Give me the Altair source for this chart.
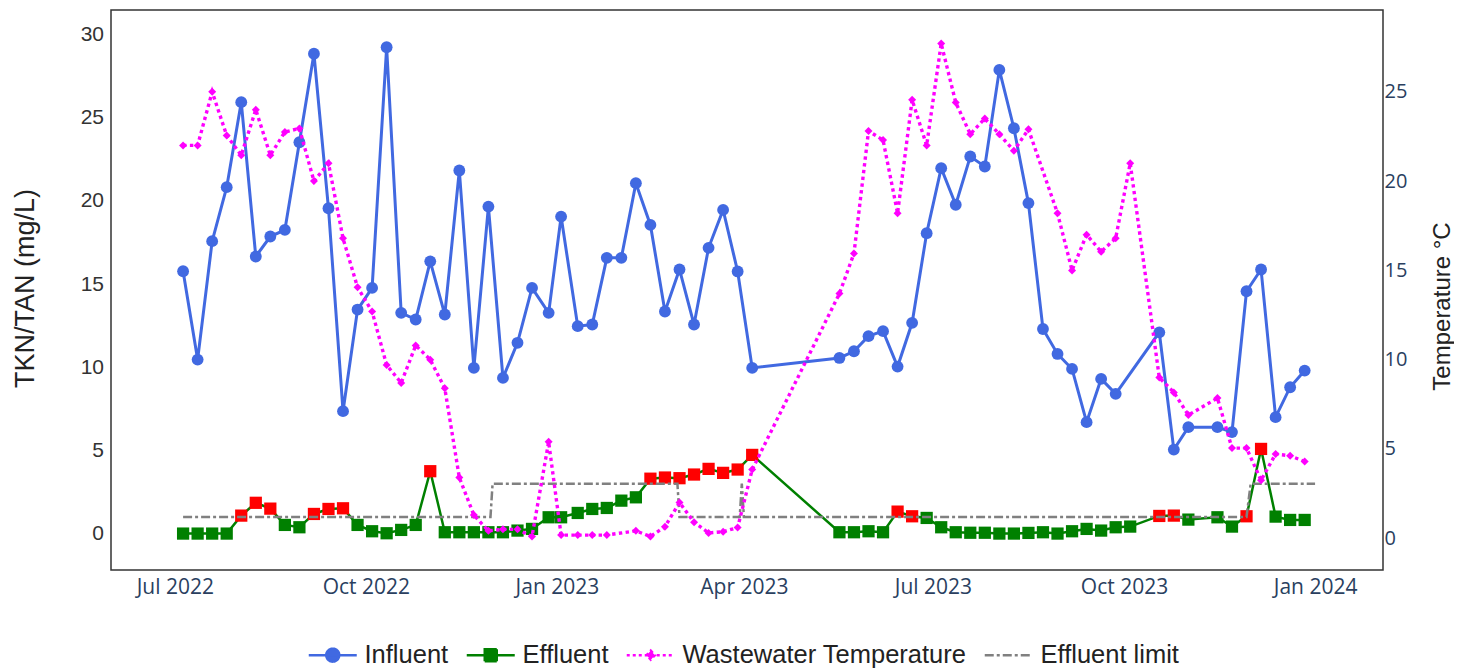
import altair as alt
import numpy as np
import pandas as pd

# ---------------- data ----------------
sample_dates = [
    "2022-07-05", "2022-07-12", "2022-07-19", "2022-07-26", "2022-08-02", "2022-08-09",
    "2022-08-16", "2022-08-23", "2022-08-30", "2022-09-06", "2022-09-13", "2022-09-20",
    "2022-09-27", "2022-10-04", "2022-10-11", "2022-10-18", "2022-10-25", "2022-11-01",
    "2022-11-08", "2022-11-15", "2022-11-22", "2022-11-29", "2022-12-06", "2022-12-13",
    "2022-12-20", "2022-12-28", "2023-01-03", "2023-01-11", "2023-01-18", "2023-01-25",
    "2023-02-01", "2023-02-08", "2023-02-15", "2023-02-22", "2023-03-01", "2023-03-08",
    "2023-03-15", "2023-03-22", "2023-03-29", "2023-04-05", "2023-04-12", "2023-04-19",
    "2023-04-26", "2023-05-03", "2023-05-10", "2023-05-17", "2023-05-24", "2023-05-31",
    "2023-06-07", "2023-06-14", "2023-06-21", "2023-06-28", "2023-07-05", "2023-07-12",
    "2023-07-19", "2023-07-26", "2023-08-02", "2023-08-09", "2023-08-16", "2023-08-23",
    "2023-08-30", "2023-09-06", "2023-09-13", "2023-09-20", "2023-09-27", "2023-10-04",
    "2023-10-11", "2023-10-18", "2023-10-25", "2023-11-01", "2023-11-08", "2023-11-15",
    "2023-11-22", "2023-11-29", "2023-12-06", "2023-12-13", "2023-12-20", "2023-12-27",
]

influent = [
    15.77, 10.46, 17.58, 20.83, 25.94, 16.66, 17.86, 18.26, 23.53, 28.85,
    19.56, 7.36, 13.47, 14.77, 29.24, 13.27, 12.87, 16.37, 13.17, 21.83,
    9.96, 19.66, 9.36, 11.47, 14.77, 13.27, 19.06, 12.47, 12.57, 16.58,
    16.58, 21.07, 18.56, 13.35, 15.88, 12.57, 17.18, 19.46, 15.76, 9.96,
    None, None, None, None, None, 10.56, 10.96, 11.87, 12.17, 10.04,
    12.67, 18.06, 21.97, 19.77, 22.67, 22.07, 27.88, 24.37, 19.87, 12.3,
    10.8, 9.9, 6.7, 9.3, 8.4, None, None, 12.1, 5.05, 6.4,
    None, 6.4, 6.1, 14.57, 15.88, 7.0, 8.8, 9.8,
]

effluent = [
    0.0, 0.0, 0.0, 0.0, 1.08, 1.85, 1.5, 0.52, 0.38, 1.18,
    1.48, 1.52, 0.52, 0.14, 0.02, 0.22, 0.52, 3.75, 0.08, 0.08,
    0.08, 0.08, 0.08, 0.18, 0.28, 0.98, 0.98, 1.24, 1.48, 1.54,
    1.98, 2.18, 3.3, 3.37, 3.33, 3.55, 3.89, 3.65, 3.85, 4.73,
    None, None, None, None, None, 0.08, 0.08, 0.14, 0.08, 1.32,
    1.04, 0.94, 0.38, 0.08, 0.05, 0.05, 0.0, 0.0, 0.04, 0.08,
    0.0, 0.14, 0.28, 0.18, 0.38, 0.42, None, 1.06, 1.08, 0.84,
    None, 0.98, 0.42, 1.04, 5.09, 1.02, 0.82, 0.82,
]

temperature = [
    22.0, 22.0, 25.0, 22.55, 21.45, 24.0, 21.45, 22.75, 22.95, 20.0,
    21.0, 16.8, 14.05, 12.7, 9.7, 8.7, 10.8, 10.0, 8.4, 3.4,
    1.3, 0.42, 0.5, 0.5, 0.1, 5.4, 0.18, 0.18, 0.18, 0.18,
    None, 0.42, 0.1, 0.65, 2.0, 0.9, 0.3, 0.37, 0.6, 3.85,
    None, None, None, None, None, 13.7, 15.95, 22.8, 22.3, 18.2,
    24.55, 22.0, 27.7, 24.4, 22.63, 23.5, 22.62, 21.7, 22.9, None,
    18.2, 15.0, 17.0, 16.05, 16.8, 21.0, None, 9.0, 8.17, 6.9,
    None, 7.85, 5.05, 5.05, 3.25, 4.72, 4.62, 4.3,
]

limit_dates = [
    "2022-07-05", "2022-11-30", "2022-12-01", "2023-02-28", "2023-03-01",
    "2023-03-30", "2023-03-31", "2023-04-01", "2023-11-29", "2023-12-01", "2024-01-01",
]
limit_values = [1, 1, 3, 3, 1, 1, 3, 1, 1, 3, 3]

series_names = ["Influent", "Effluent", "Wastewater Temperature", "Effluent limit"]
series_colors = ["#4169E1", "#008000", "#FF00FF", "#808080"]
exceed_color = "#FF0000"

x_tick_months = [(2022, 7), (2022, 10), (2023, 1), (2023, 4), (2023, 7), (2023, 10), (2024, 1)]
left_ticks = [0, 5, 10, 15, 20, 25, 30]
right_ticks = [0, 5, 10, 15, 20, 25]

# ---------------- tables ----------------
inf_df = pd.DataFrame({"date": sample_dates, "value": influent}).dropna()
inf_df["series"] = "Influent"

tmp_df = pd.DataFrame({"date": sample_dates, "value": temperature}).dropna()
tmp_df["series"] = "Wastewater Temperature"

lim_df = pd.DataFrame({"date": limit_dates, "value": limit_values})
lim_df["series"] = "Effluent limit"

eff_df = pd.DataFrame({"date": pd.to_datetime(sample_dates), "value": effluent}).dropna()
lim_lookup = pd.DataFrame({"date": pd.to_datetime(limit_dates), "limit": limit_values})
eff_df = pd.merge_asof(eff_df.sort_values("date"), lim_lookup, on="date", direction="backward")
eff_df["marker_color"] = np.where(eff_df["value"] > eff_df["limit"], exceed_color, series_colors[1])
eff_df["date"] = eff_df["date"].dt.strftime("%Y-%m-%d")
eff_df["series"] = "Effluent"
eff_df = eff_df[["date", "value", "series", "marker_color"]]

# ---------------- encodings ----------------
x_enc = alt.X(
    "date:T",
    scale=alt.Scale(
        type="utc",
        domain=[
            alt.DateTime(year=2022, month=5, date=31, hours=7, utc=True),
            alt.DateTime(year=2024, month=2, date=2, hours=17, utc=True),
        ],
    ),
    axis=alt.Axis(
        values=[alt.DateTime(year=y, month=m, date=1, utc=True) for y, m in x_tick_months],
        format="%b %Y",
        labelFont="Open Sans",
        labelFontSize=21,
        labelColor="#2a3f5f",
        labelPadding=6.5,
        labelFlush=False,
        labelOverlap=False,
        ticks=False,
        tickSize=0,
        domain=False,
        grid=False,
        title=None,
    ),
)

y_left = alt.Y(
    "value:Q",
    scale=alt.Scale(domain=[-2.19, 31.48], nice=False, zero=False),
    axis=alt.Axis(
        orient="left",
        values=left_ticks,
        labelFont="Liberation Sans",
        labelFontSize=21,
        labelColor="#333333",
        labelPadding=7.5,
        ticks=False,
        tickSize=0,
        domain=False,
        grid=False,
        title="TKN/TAN (mg/L)",
        titleFont="Liberation Sans",
        titleFontSize=27,
        titleFontWeight="normal",
        titleColor="#222222",
        titleAngle=270,
        titleAlign="center",
        titleBaseline="alphabetic",
        titleX=-78,
        titleY=278,
    ),
)

y_right = alt.Y(
    "value:Q",
    scale=alt.Scale(domain=[-1.775, 29.58], nice=False, zero=False),
    axis=alt.Axis(
        orient="right",
        values=right_ticks,
        labelFont="Open Sans",
        labelFontSize=20,
        labelColor="#2a3f5f",
        labelPadding=1,
        ticks=False,
        tickSize=0,
        domain=False,
        grid=False,
        title="Temperature °C",
        titleFont="Liberation Sans",
        titleFontSize=24,
        titleFontWeight="normal",
        titleColor="#222222",
        titleAngle=270,
        titleAlign="center",
        titleBaseline="alphabetic",
        titleX=66,
        titleY=296,
    ),
)

LINE = "M-1.1,0H3.7"
P_INF = LINE + "M1.95,0A0.65,0.65,0,1,1,0.65,0A0.65,0.65,0,1,1,1.95,0Z"
P_EFF = LINE + "M0.7,-0.6H1.9V0.6H0.7Z"
P_TMP = LINE + "M1.3,-0.45L1.72,0L1.3,0.45L0.88,0Z"
shape_expr = (
    "datum.value == 'Influent' ? '" + P_INF + "' : "
    "datum.value == 'Effluent' ? '" + P_EFF + "' : "
    "datum.value == 'Wastewater Temperature' ? '" + P_TMP + "' : '" + LINE + "'"
)
dash_expr = (
    "datum.value == 'Wastewater Temperature' ? [3, 3] : "
    "datum.value == 'Effluent limit' ? [9, 3, 3, 3] : [1, 0]"
)
fill_expr = (
    "datum.value == 'Influent' ? '" + series_colors[0] + "' : "
    "datum.value == 'Effluent' ? '" + series_colors[1] + "' : "
    "datum.value == 'Wastewater Temperature' ? '" + series_colors[2] + "' : 'transparent'"
)

legend = alt.Legend(
    title=None,
    orient="none",
    legendX=196,
    legendY=632,
    direction="horizontal",
    symbolType=alt.ExprRef(expr=shape_expr),
    symbolDash=alt.ExprRef(expr=dash_expr),
    symbolFillColor=alt.ExprRef(expr=fill_expr),
    symbolSize=400,
    symbolStrokeWidth=2.5,
    symbolOpacity=1,
    labelFont="Liberation Sans",
    labelFontSize=25.5,
    labelColor="#222222",
    labelOffset=32,
    labelLimit=0,
    columnPadding=12,
    padding=0,
)

color_enc = alt.Color(
    "series:N",
    scale=alt.Scale(domain=series_names, range=series_colors),
    legend=legend,
)

# ---------------- layers ----------------
inf_line = alt.Chart(inf_df).mark_line(strokeWidth=3).encode(x=x_enc, y=y_left, color=color_enc)
inf_pts = alt.Chart(inf_df).mark_point(shape="circle", filled=True, size=140, opacity=1).encode(
    x=x_enc, y=y_left, color=alt.value(series_colors[0])
)
eff_line = alt.Chart(eff_df).mark_line(strokeWidth=2.5).encode(x=x_enc, y=y_left, color=color_enc)
eff_pts = alt.Chart(eff_df).mark_point(shape="square", filled=True, size=150, opacity=1).encode(
    x=x_enc, y=y_left, fill=alt.Fill("marker_color:N", scale=None, legend=None)
)
lim_line = alt.Chart(lim_df).mark_line(strokeWidth=2.5, strokeDash=[9, 3, 3, 3]).encode(
    x=x_enc, y=y_left, color=color_enc
)
tmp_line = alt.Chart(tmp_df).mark_line(strokeWidth=3.4, strokeDash=[3.4, 3.4]).encode(
    x=x_enc, y=y_right, color=color_enc
)
tmp_pts = alt.Chart(tmp_df).mark_point(shape="diamond", filled=True, size=64, opacity=1).encode(
    x=x_enc, y=y_right, color=alt.value(series_colors[2])
)

left = alt.layer(inf_line, inf_pts, eff_line, eff_pts, lim_line)
right = alt.layer(tmp_line, tmp_pts)

chart = (
    alt.layer(left, right)
    .resolve_scale(y="independent")
    .properties(
        width=1272,
        height=560,
        autosize=alt.AutoSizeParams(type="none"),
        padding={"left": 103, "top": 2, "right": 71, "bottom": 104},
        background="white",
    )
    .configure_view(stroke="#333333", strokeWidth=1.5)
)

chart.save("out.html", embed_options={"renderer": "svg", "actions": False})
